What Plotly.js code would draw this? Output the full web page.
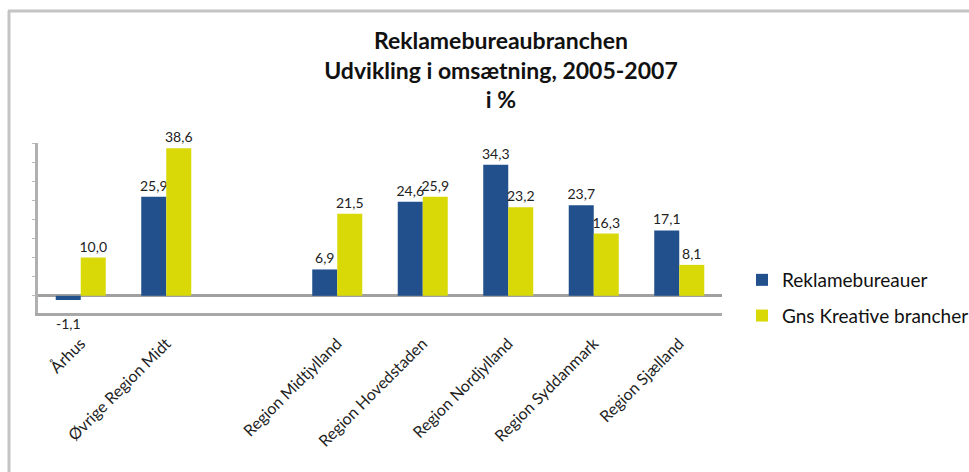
<!DOCTYPE html>
<html>
<head>
<meta charset="utf-8">
<script src="https://cdn.plot.ly/plotly-3.0.1.min.js"></script>
<style>
html,body{margin:0;padding:0;background:#fff;}
#chart{width:969px;height:472px;}
</style>
</head>
<body>
<div id="chart"></div>
<script>
const categories = ["Århus", "Øvrige Region Midt", " ", "Region Midtjylland", "Region Hovedstaden", "Region Nordjylland", "Region Syddanmark", "Region Sjælland"];
const reklamebureauer = [-1.1, 25.9, null, 6.9, 24.6, 34.3, 23.7, 17.1];
const kreative = [10.0, 38.6, null, 21.5, 25.9, 23.2, 16.3, 8.1];
const seriesNames = ["Reklamebureauer", "Gns Kreative brancher"];
const titleText = "Reklamebureaubranchen<br>Udvikling i omsætning, 2005-2007<br>i %";

const FONT = "Lato, 'Open Sans', 'DejaVu Sans', sans-serif";

const fmt = v => v.toFixed(1).replace(".", ",");
const posLabels = arr => arr.map(v => (v == null || v < 0) ? "" : fmt(v));

const traces = [
  {
    type: "bar", name: seriesNames[0], x: categories, y: reklamebureauer,
    marker: {color: "#21508D", line: {width: 0}},
    text: posLabels(reklamebureauer), texttemplate: "%{text}",
    textposition: "outside", cliponaxis: false, constraintext: "none",
    textfont: {family: FONT, size: 14, color: "#222"},
    legendgroup: "a", hoverinfo: "x+y"
  },
  {
    type: "bar", name: seriesNames[1], x: categories, y: kreative,
    marker: {color: "#D9D908", line: {width: 0}},
    text: posLabels(kreative), texttemplate: "%{text}",
    textposition: "outside", cliponaxis: false, constraintext: "none",
    textfont: {family: FONT, size: 14, color: "#222"},
    legendgroup: "b", hoverinfo: "x+y"
  }
];

// labels for negative values sit below the floor line, as in the original
const negAnnotations = [];
reklamebureauer.forEach((v, i) => {
  if (v != null && v < 0) {
    negAnnotations.push({
      x: categories[i], y: v, xref: "x", yref: "y",
      text: fmt(v), showarrow: false, xshift: -12.5, yshift: -13,
      yanchor: "top", font: {family: FONT, size: 14, color: "#222"}
    });
  }
});

// border pixel helpers (plot area: x 38..722, y 143..313)
const px = v => (v - 38) / 684;
const py = v => (313 - v) / 170;

const layout = {
  width: 969, height: 472,
  margin: {l: 38, r: 247, t: 143, b: 159, autoexpand: false},
  paper_bgcolor: "#fff", plot_bgcolor: "#fff",
  separators: ",.",
  font: {family: FONT, color: "#222"},
  title: {
    text: titleText,
    font: {family: FONT, size: 23, color: "#111", weight: "bold"},
    xref: "container", yref: "container", x: 0.517, xanchor: "center",
    y: 0.897, yanchor: "top"
  },
  barmode: "group",
  bargap: 0.415, bargroupgap: 0,
  xaxis: {
    type: "category", tickangle: -45,
    tickfont: {family: FONT, size: 16, color: "#222"},
    showline: true, linecolor: "#A8A8A8", linewidth: 3,
    showgrid: false, ticks: "", ticklabelstandoff: 12,
    range: [-0.5, 7.5], fixedrange: true, automargin: false
  },
  yaxis: {
    range: [-4.5, 40], showgrid: false,
    showticklabels: false, ticks: "outside", ticklen: 3, tickcolor: "#bbb",
    dtick: 5, tick0: 0,
    showline: true, linecolor: "#B0B0B0", linewidth: 3,
    zeroline: true, zerolinecolor: "#A0A0A0", zerolinewidth: 3,
    fixedrange: true, automargin: false
  },
  legend: {
    x: px(742), y: py(261), xanchor: "left", yanchor: "top",
    traceorder: "grouped", tracegroupgap: 8,
    font: {family: FONT, size: 19, color: "#111"},
    itemwidth: 30, bgcolor: "rgba(0,0,0,0)"
  },
  annotations: negAnnotations,
  shapes: [
    {type: "line", xref: "paper", yref: "paper", x0: px(8), x1: px(969), y0: py(11), y1: py(11), line: {color: "#C4C4C4", width: 3}},
    {type: "line", xref: "paper", yref: "paper", x0: px(9), x1: px(9), y0: py(11), y1: py(472), line: {color: "#C4C4C4", width: 3}}
  ],
  showlegend: true
};

Plotly.newPlot("chart", traces, layout, {displayModeBar: false, staticPlot: true});
</script>
</body>
</html>
